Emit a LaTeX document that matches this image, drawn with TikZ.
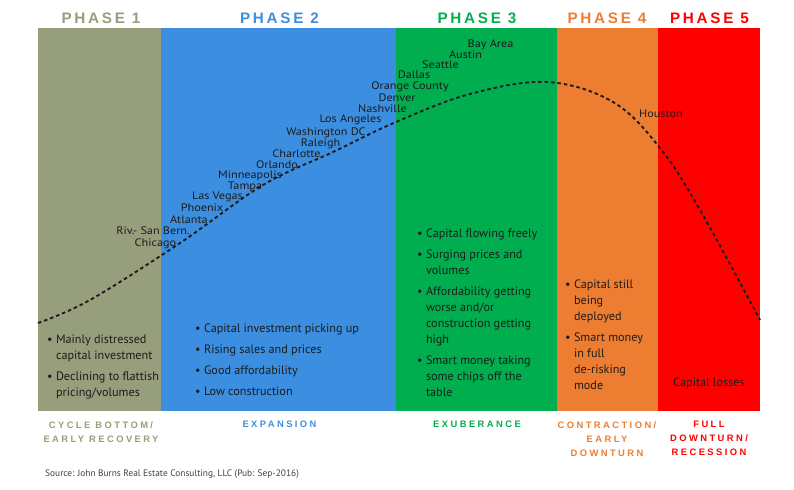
\documentclass[tikz,border=0pt]{standalone}
\usepackage{fontspec}
\setmainfont{PT Sans}
\newfontfamily\cityfont{PT Sans}[FakeStretch=1.12]
\newfontfamily\headfont{Liberation Sans}[LetterSpace=18]
\newfontfamily\tagfont{Liberation Sans}[LetterSpace=26]
\usepackage{tikz}
\usetikzlibrary{positioning}
\definecolor{phaseone}{RGB}{150,158,123}
\definecolor{phasetwo}{RGB}{60,142,224}
\definecolor{phasethree}{RGB}{0,173,79}
\definecolor{phasefour}{RGB}{237,125,49}
\definecolor{phasefive}{RGB}{255,0,0}
\definecolor{inkcolor}{RGB}{28,28,28}
\tikzset{
  phasebox/.style={fill=#1, draw=none},
  phasetitle/.style={font=\headfont\bfseries\fontsize{13}{15}\selectfont,
                     text=#1, anchor=base, inner sep=0pt},
  city/.style={font=\cityfont\fontsize{9.3}{11}\selectfont, text=inkcolor,
               anchor=base, inner sep=0pt},
  notes/.style={font=\fontsize{10.4}{13.66}\selectfont, text=inkcolor,
                anchor=base west, inner sep=0pt},
  stage/.style={font=\tagfont\bfseries\fontsize{8}{11.95}\selectfont,
                text=#1, align=center, anchor=north, inner sep=0pt},
  cycleline/.style={dash pattern=on 3pt off 2.5pt, line width=1.6pt,
                    draw=inkcolor},
  source/.style={font=\fontsize{8}{9}\selectfont, text=black!75,
                 anchor=base west, inner sep=0pt},
}

\begin{document}
\begin{tikzpicture}[x=0.3mm, y=-0.3mm]
  \useasboundingbox (0,0) rectangle (794,490);

  % Phase panels
  \fill[phasebox=phaseone]   (38,28)  rectangle (161,411);
  \fill[phasebox=phasetwo]   (161,28) rectangle (396,411);
  \fill[phasebox=phasethree] (396,28) rectangle (557,411);
  \fill[phasebox=phasefour]  (557,28) rectangle (658,411);
  \fill[phasebox=phasefive]  (658,28) rectangle (760,411);

  % Titles
  \node[phasetitle=phaseone]   (t1) at (101,23)   {PHASE 1};
  \node[phasetitle=phasetwo]   (t2) at (279.5,23) {PHASE 2};
  \node[phasetitle=phasethree] (t3) at (477,23)   {PHASE 3};
  \node[phasetitle=phasefour]  (t4) at (607,23)   {PHASE 4};
  \node[phasetitle=phasefive]  (t5) at (709.5,23) {PHASE 5};

  % Market cycle
  \draw[cycleline] plot[smooth, tension=0.6] coordinates {
    (38,323) (90,300) (180,243) (263,185) (333,152) (396,122)
    (470,94) (547,82) (613,102) (660,148) (700,210) (760,320)};

  % Metros
  \node[city] (chi) at (155.5,246) {Chicago};
  \node[city] (riv) at (153,234)   {Riv.- San Bern.};
  \node[city] (atl) at (189,223)   {Atlanta};
  \node[city] (phx) at (202,211)   {Phoenix};
  \node[city] (lv)  at (217.5,199.5) {Las Vegas};
  \node[city] (tpa) at (245,189.5) {Tampa};
  \node[city] (msp) at (250,178)   {Minneapolis};
  \node[city] (orl) at (277,168)   {Orlando};
  \node[city] (clt) at (296.5,157) {Charlotte};
  \node[city] (ral) at (320.5,146) {Raleigh};
  \node[city] (dc)  at (326,135)   {Washington DC};
  \node[city] (la)  at (350.5,122) {Los Angeles};
  \node[city] (nsh) at (382.5,112) {Nashville};
  \node[city] (den) at (397,101)   {Denver};
  \node[city] (oc)  at (410,89)    {Orange County};
  \node[city] (dal) at (414,78)    {Dallas};
  \node[city] (sea) at (440.5,68)  {Seattle};
  \node[city] (aus) at (465.5,58)  {Austin};
  \node[city] (bay) at (490.5,47)  {Bay Area};
  \node[city] (hou) at (661,117)   {Houston};

  % Phase notes
  \node[notes] (n1) at (47,343) {\begin{tabular}[t]{@{}l@{\hspace{2.8pt}}l@{}}
    \textbullet & Mainly distressed\\ & capital investment\\[4.3pt]
    \textbullet & Declining to flattish\\ & pricing/volumes
  \end{tabular}};
  \node[notes] (n2) at (195,332) {\begin{tabular}[t]{@{}l@{\hspace{2.8pt}}l@{}}
    \textbullet & Capital investment picking up\\[4.6pt]
    \textbullet & Rising sales and prices\\[4.3pt]
    \textbullet & Good affordability\\[4.3pt]
    \textbullet & Low construction
  \end{tabular}};
  \node[notes] (n3) at (417,237) {\begin{tabular}[t]{@{}l@{\hspace{2.8pt}}l@{}}
    \textbullet & Capital flowing freely\\[4.3pt]
    \textbullet & Surging prices and\\ & volumes\\[4.3pt]
    \textbullet & Affordability getting\\ & worse and/or\\
      & construction getting\\ & high\\[4.3pt]
    \textbullet & Smart money taking\\ & some chips off the\\ & table
  \end{tabular}};
  \node[notes] (n4) at (565,288) {\begin{tabular}[t]{@{}l@{\hspace{2.8pt}}l@{}}
    \textbullet & Capital still\\ & being\\ & deployed\\[4.3pt]
    \textbullet & Smart money\\ & in full\\ & de-risking\\ & mode
  \end{tabular}};
  \node[notes, anchor=base] (n5) at (709,386) {Capital losses};

  % Stage names
  \node[stage=phaseone]   (s1) at (101,421)   {CYCLE BOTTOM/\\EARLY RECOVERY};
  \node[stage=phasetwo]   (s2) at (279.5,421) {EXPANSION};
  \node[stage=phasethree] (s3) at (477,421)   {EXUBERANCE};
  \node[stage=phasefour]  (s4) at (607,421)   {CONTRACTION/\\EARLY\\DOWNTURN};
  \node[stage=phasefive]  (s5) at (709,421)   {FULL\\DOWNTURN/\\RECESSION};

  \node[source] (src) at (45,476)
    {Source: John Burns Real Estate Consulting, LLC (Pub: Sep-2016)};

\end{tikzpicture}
\end{document}
